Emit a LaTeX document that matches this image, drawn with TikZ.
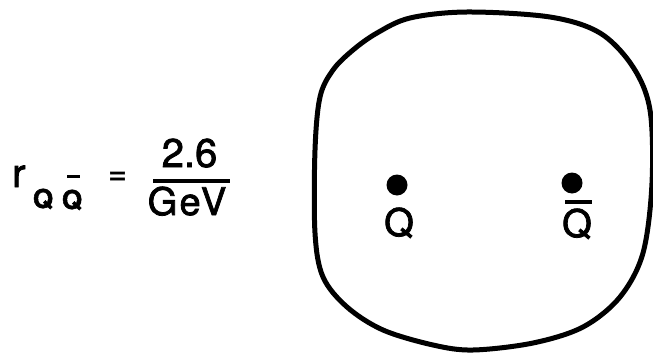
\documentclass[tikz,border=0pt]{standalone}
\usepackage{fontspec}
\setmainfont{TeX Gyre Heros}[FakeBold=2]
\begin{document}
\begin{tikzpicture}[x=1pt,y=-1pt,
  txt/.style={inner sep=0pt,font=\fontsize{40}{40}\selectfont},
  subtxt/.style={inner sep=0pt,font=\bfseries\fontsize{26}{26}\selectfont},
  quark/.style={circle,fill=black,inner sep=0pt,minimum size=21pt},
  barline/.style={line width=3.5pt},
  blob/.style={line width=5pt,line join=round}]
\useasboundingbox (0,0) rectangle (653,353);
% left formula
\node[txt,anchor=base west] (r) at (12,187) {r};
\node[subtxt,anchor=base] (s1) at (43,208) {Q};
\node[subtxt,anchor=base] (s2) at (72,209) {Q};
\coordinate (sb1) at (67,176.5); \coordinate (sb2) at (80,176.5);
\draw[line width=3pt] (sb1) -- (sb2);
\node[txt,anchor=center,font=\fontsize{32}{32}\selectfont] (eq) at (117.5,178) {=};
\node[txt,anchor=base] (num) at (189.5,167) {2.6};
\coordinate (fb1) at (153,181); \coordinate (fb2) at (230,181);
\draw[barline] (fb1) -- (fb2);
\node[txt,anchor=base,font=\fontsize{38}{38}\selectfont\addfontfeature{LetterSpace=6}] (den) at (187,215) {GeV};
% blob
\draw[blob] plot[smooth cycle,tension=0.55] coordinates {
 (467,12) (550,17) (600,33) (633,67) (650,110) (652,183) (643,253)
 (620,297) (583,327) (533,343) (473,350) (433,345) (383,330) (347,307)
 (323,277) (315,233) (315,150) (320,97) (333,70) (353,50) (377,33) (410,18)};
% quarks
\node[quark] (q) at (397,185) {};
\node[quark] (qb) at (572,183) {};
\node[txt,anchor=base,font=\fontsize{38}{38}\selectfont] (ql) at (399,236) {Q};
\node[txt,anchor=base,font=\fontsize{38}{38}\selectfont] (qbl) at (577,237) {Q};
\coordinate (qb1) at (565,202); \coordinate (qb2) at (592,202);
\draw[barline] (qb1) -- (qb2);
\end{tikzpicture}
\end{document}
